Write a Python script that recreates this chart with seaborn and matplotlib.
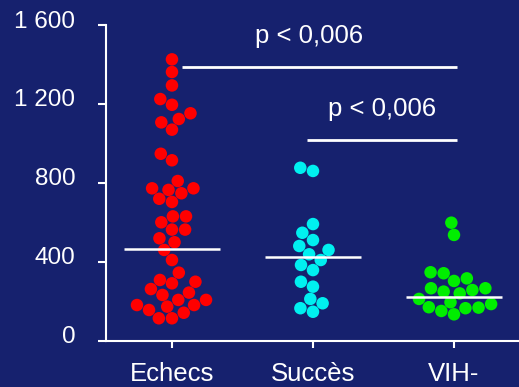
import matplotlib
matplotlib.use("Agg")
import matplotlib.pyplot as plt
import matplotlib.transforms as mtransforms
import numpy as np
import pandas as pd
import seaborn as sns

# CD4 counts per group
groups = ["Echecs", "Succès", "VIH-"]
echecs = [1426, 1362, 1294, 1225, 1196, 1153, 1124, 1107, 1070, 948, 915,
          810, 773, 748, 765, 773, 704, 720, 631, 631, 601, 564, 564, 520,
          500, 461, 410, 346, 309, 300, 292, 245, 233, 263, 208, 208, 182,
          174, 143, 157, 182, 115, 115]
succes = [861, 877, 592, 548, 511, 481, 461, 439, 410, 385, 359, 300, 275,
          213, 191, 166, 148]
vih_neg = [599, 537, 343, 348, 304, 317, 267, 267, 250, 258, 241, 213, 187,
           171, 169, 196, 152, 166, 135]
medians = [466, 427, 224]

# significance brackets: start group, end group, level, label
comp_start = [0, 1]
comp_end = [2, 2]
comp_level = [1389, 1018]
comp_label = ["p < 0,006", "p < 0,006"]

yticks = [0, 400, 800, 1200, 1600]
ytick_labels = ["0", "400", "800", "1 200", "1 600"]
colors = ["#ff0000", "#00f0f0", "#00ee00"]

df = pd.DataFrame({
    "groupe": ["Echecs"] * len(echecs) + ["Succès"] * len(succes) + ["VIH-"] * len(vih_neg),
    "cd4": echecs + succes + vih_neg,
})

bg = "#16216e"
fig = plt.figure(figsize=(5.19, 3.87), dpi=100, facecolor=bg)
ax = fig.add_axes([0.2042, 0.1189, 0.7958, 0.8165])
ax.set_facecolor(bg)

sns.swarmplot(data=df, x="groupe", y="cd4", hue="groupe", order=groups,
              hue_order=groups, palette=colors, size=9, linewidth=0,
              legend=False, ax=ax)

# median bars
ax.hlines(medians, np.arange(3) - 0.34, np.arange(3) + 0.34,
          color="white", lw=1.8, zorder=5)

# significance bars with labels
start_pad = [0.07, -0.045]
label_shift = [-0.075, 0.0]
for g0, g1, level, label, pad, dx in zip(comp_start, comp_end, comp_level,
                                         comp_label, start_pad, label_shift):
    x0, x1 = g0 + pad, g1 + 0.02
    ax.hlines(level, x0, x1, color="white", lw=2)
    ax.text((x0 + x1) / 2 + dx, level + 120, label, color="white",
            fontsize=18.5, family="Liberation Sans", ha="center",
            va="baseline")

ax.set_xlim(-0.468, 2.461)
ax.set_ylim(0, 1600)
ax.set_yticks(yticks, ytick_labels)
ax.set_xlabel("")
ax.set_ylabel("")

for side in ["top", "right"]:
    ax.spines[side].set_visible(False)
for side in ["left", "bottom"]:
    ax.spines[side].set_color("white")
    ax.spines[side].set_linewidth(1.5)

ax.tick_params(axis="y", colors="white", length=6, width=1.5, pad=16,
               labelsize=17.5)
ax.tick_params(axis="x", colors="white", length=5, width=1.5, pad=10,
               labelsize=18.5)
for lab in ax.get_yticklabels() + ax.get_xticklabels():
    lab.set_fontfamily("Liberation Sans")
offset = mtransforms.ScaledTranslation(0, 0.06, fig.dpi_scale_trans)
for lab in ax.get_yticklabels():
    lab.set_transform(lab.get_transform() + offset)

fig.savefig("out.png", dpi=100, facecolor=bg)
